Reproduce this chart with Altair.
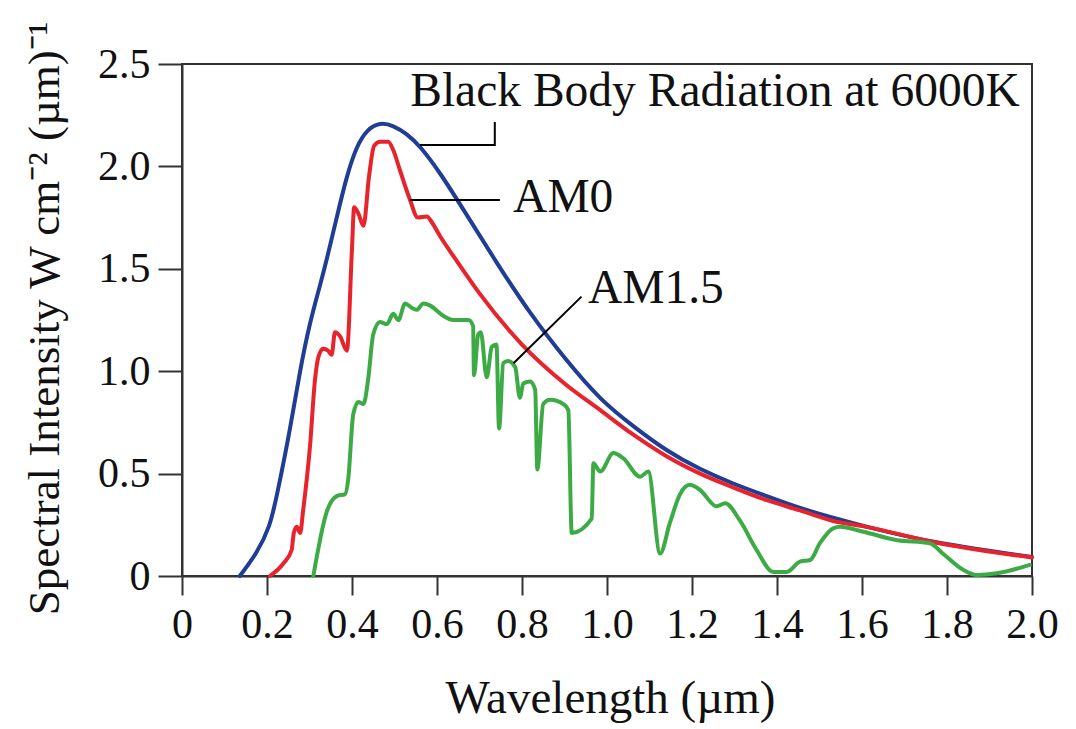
import altair as alt
import pandas as pd

# ---- data ----
bb_x = [0.136, 0.176, 0.207, 0.223, 0.254, 0.278, 0.301, 0.325, 0.34, 0.364, 0.387, 0.411, 0.435,
        0.466, 0.497, 0.529, 0.56, 0.607, 0.662, 0.74, 0.819, 0.905, 0.984, 1.062, 1.14, 1.219,
        1.297, 1.376, 1.454, 1.548, 1.61, 1.77, 2.0]
bb_y = [0.0, 0.11, 0.24, 0.39, 0.71, 1.01, 1.24, 1.42, 1.54, 1.75, 1.95, 2.10, 2.18,
        2.215, 2.20, 2.16, 2.10, 1.97, 1.79, 1.53, 1.28, 1.05, 0.86, 0.73, 0.61, 0.52,
        0.45, 0.39, 0.33, 0.275, 0.24, 0.16, 0.093]

am0_x = [0.207, 0.238, 0.258, 0.263, 0.27, 0.278, 0.285, 0.301, 0.313, 0.321, 0.332, 0.344, 0.352,
         0.36, 0.372, 0.388, 0.40, 0.405, 0.415, 0.427, 0.44, 0.452, 0.466, 0.485, 0.497, 0.513,
         0.536, 0.555, 0.576, 0.59, 0.607, 0.646, 0.70, 0.80, 0.90, 0.984, 1.062, 1.14, 1.219,
         1.30, 1.376, 1.454, 1.53, 1.61, 1.77, 2.0]
am0_y = [0.0, 0.06, 0.127, 0.21, 0.24, 0.21, 0.32, 0.63, 0.96, 1.07, 1.11, 1.10, 1.08,
         1.19, 1.17, 1.10, 1.60, 1.80, 1.77, 1.71, 1.95, 2.10, 2.12, 2.12, 2.08, 1.98,
         1.84, 1.75, 1.755, 1.72, 1.66, 1.54, 1.38, 1.13, 0.94, 0.81, 0.69, 0.585, 0.50,
         0.43, 0.37, 0.32, 0.27, 0.24, 0.165, 0.09]

am15_x = [0.309, 0.340, 0.364, 0.384, 0.391, 0.403, 0.415, 0.427, 0.438, 0.45, 0.466, 0.482, 0.497,
          0.509, 0.525, 0.540, 0.552, 0.568, 0.584, 0.615, 0.638, 0.674, 0.685, 0.687, 0.697, 0.703,
          0.717, 0.729, 0.74, 0.746, 0.756, 0.767, 0.784, 0.795, 0.803, 0.819, 0.831, 0.836, 0.850,
          0.866, 0.897, 0.909, 0.917, 0.964, 0.968, 0.984, 1.015, 1.038, 1.078, 1.097, 1.125, 1.148,
          1.172, 1.195, 1.219, 1.258, 1.278, 1.313, 1.352, 1.391, 1.423, 1.454, 1.478, 1.501, 1.532,
          1.548, 1.603, 1.68, 1.76, 1.79, 1.838, 1.87, 1.917, 1.995]
am15_y = [0.0, 0.31, 0.39, 0.40, 0.47, 0.79, 0.85, 0.84, 0.96, 1.18, 1.24, 1.23, 1.28,
          1.25, 1.33, 1.31, 1.30, 1.33, 1.32, 1.27, 1.25, 1.25, 1.22, 0.98, 1.18, 1.19,
          0.97, 1.12, 1.13, 0.72, 1.04, 1.05, 1.02, 0.87, 0.94, 0.95, 0.91, 0.52, 0.84,
          0.86, 0.84, 0.81, 0.21, 0.28, 0.55, 0.51, 0.60, 0.575, 0.485, 0.51, 0.11, 0.26,
          0.40, 0.445, 0.42, 0.34, 0.355, 0.27, 0.127, 0.02, 0.02, 0.07, 0.078, 0.16, 0.233,
          0.24, 0.216, 0.176, 0.16, 0.11, 0.03, 0.005, 0.013, 0.054]

x_ticks = [0, 0.2, 0.4, 0.6, 0.8, 1.0, 1.2, 1.4, 1.6, 1.8, 2.0]
y_ticks = [0, 0.5, 1.0, 1.5, 2.0, 2.5]

labels = ["Black Body Radiation at 6000K", "AM0", "AM1.5"]
label_x = [0.537, 0.779, 0.955]
label_y = [2.295, 1.777, 1.333]

# leader lines: (segment, order, x, y)
lead_seg = ["bb", "bb", "bb", "am0", "am0", "am15", "am15"]
lead_ord = [0, 1, 2, 0, 1, 0, 1]
lead_x = [0.56, 0.736, 0.736, 0.536, 0.748, 0.78, 0.94]
lead_y = [2.105, 2.105, 2.217, 1.836, 1.836, 1.039, 1.364]

BLUE = "#1f3d94"
RED = "#e8232b"
GREEN = "#3dab45"
FONT = "Liberation Serif"

xs = alt.Scale(domain=[0, 2.0], nice=False, zero=False)
ys = alt.Scale(domain=[0, 2.5], nice=False)

x_axis = alt.Axis(values=x_ticks, title="Wavelength (µm)", grid=False,
                  labelExpr="datum.value == 0 ? '0' : format(datum.value, '.1f')",
                  labelFlush=False, labelOverlap=False,
                  tickSize=19, labelPadding=9, titleX=428, titleY=136,
                  titleBaseline="alphabetic", titleAlign="center")
y_axis = alt.Axis(values=y_ticks, title="Spectral Intensity W cm⁻² (µm)⁻¹", grid=False,
                  labelExpr="datum.value == 0 ? '0' : format(datum.value, '.1f')",
                  labelFlush=False, labelOverlap=False, titleFontSize=45,
                  tickSize=24, labelPadding=8, titleX=-124, titleY=254,
                  titleBaseline="alphabetic", titleAlign="center", titleAngle=270)


def curve(xv, yv, color, interp, with_axes=False):
    df = pd.DataFrame({"x": xv, "y": yv})
    if with_axes:
        enc_x = alt.X("x:Q", scale=xs, axis=x_axis)
        enc_y = alt.Y("y:Q", scale=ys, axis=y_axis)
    else:
        enc_x = alt.X("x:Q", scale=xs)
        enc_y = alt.Y("y:Q", scale=ys)
    return alt.Chart(df).mark_line(color=color, strokeWidth=4, interpolate=interp,
                                   strokeJoin="round", strokeCap="round").encode(x=enc_x, y=enc_y)


bb = curve(bb_x, bb_y, BLUE, "basis", with_axes=True)
am0 = curve(am0_x, am0_y, RED, "monotone")
am15 = curve(am15_x, am15_y, GREEN, "monotone")

lead_df = pd.DataFrame({"seg": lead_seg, "o": lead_ord, "x": lead_x, "y": lead_y})
leaders = alt.Chart(lead_df).mark_line(color="black", strokeWidth=2).encode(
    x=alt.X("x:Q", scale=xs), y=alt.Y("y:Q", scale=ys), detail="seg:N", order="o:Q")

txt_df = pd.DataFrame({"t": labels, "x": label_x, "y": label_y})
texts = alt.Chart(txt_df).mark_text(align="left", baseline="alphabetic", font=FONT,
                                    fontSize=47.5, color="#111").encode(
    x=alt.X("x:Q", scale=xs), y=alt.Y("y:Q", scale=ys), text="t:N")

chart = alt.layer(bb, am0, am15, leaders, texts).properties(
    width=850, height=512,
    autosize=alt.AutoSizeParams(type="none"),
    padding={"left": 174, "top": 56, "right": 36, "bottom": 153},
).configure_view(stroke="#333", strokeWidth=2).configure_axis(
    domainColor="#333", domainWidth=2, tickColor="#333", tickWidth=2,
    labelFont=FONT, labelFontSize=42, labelColor="#111",
    titleFont=FONT, titleFontSize=47, titleColor="#111", titleFontWeight="normal",
)

chart.save("out.html", embed_options={"renderer": "svg", "actions": False})
